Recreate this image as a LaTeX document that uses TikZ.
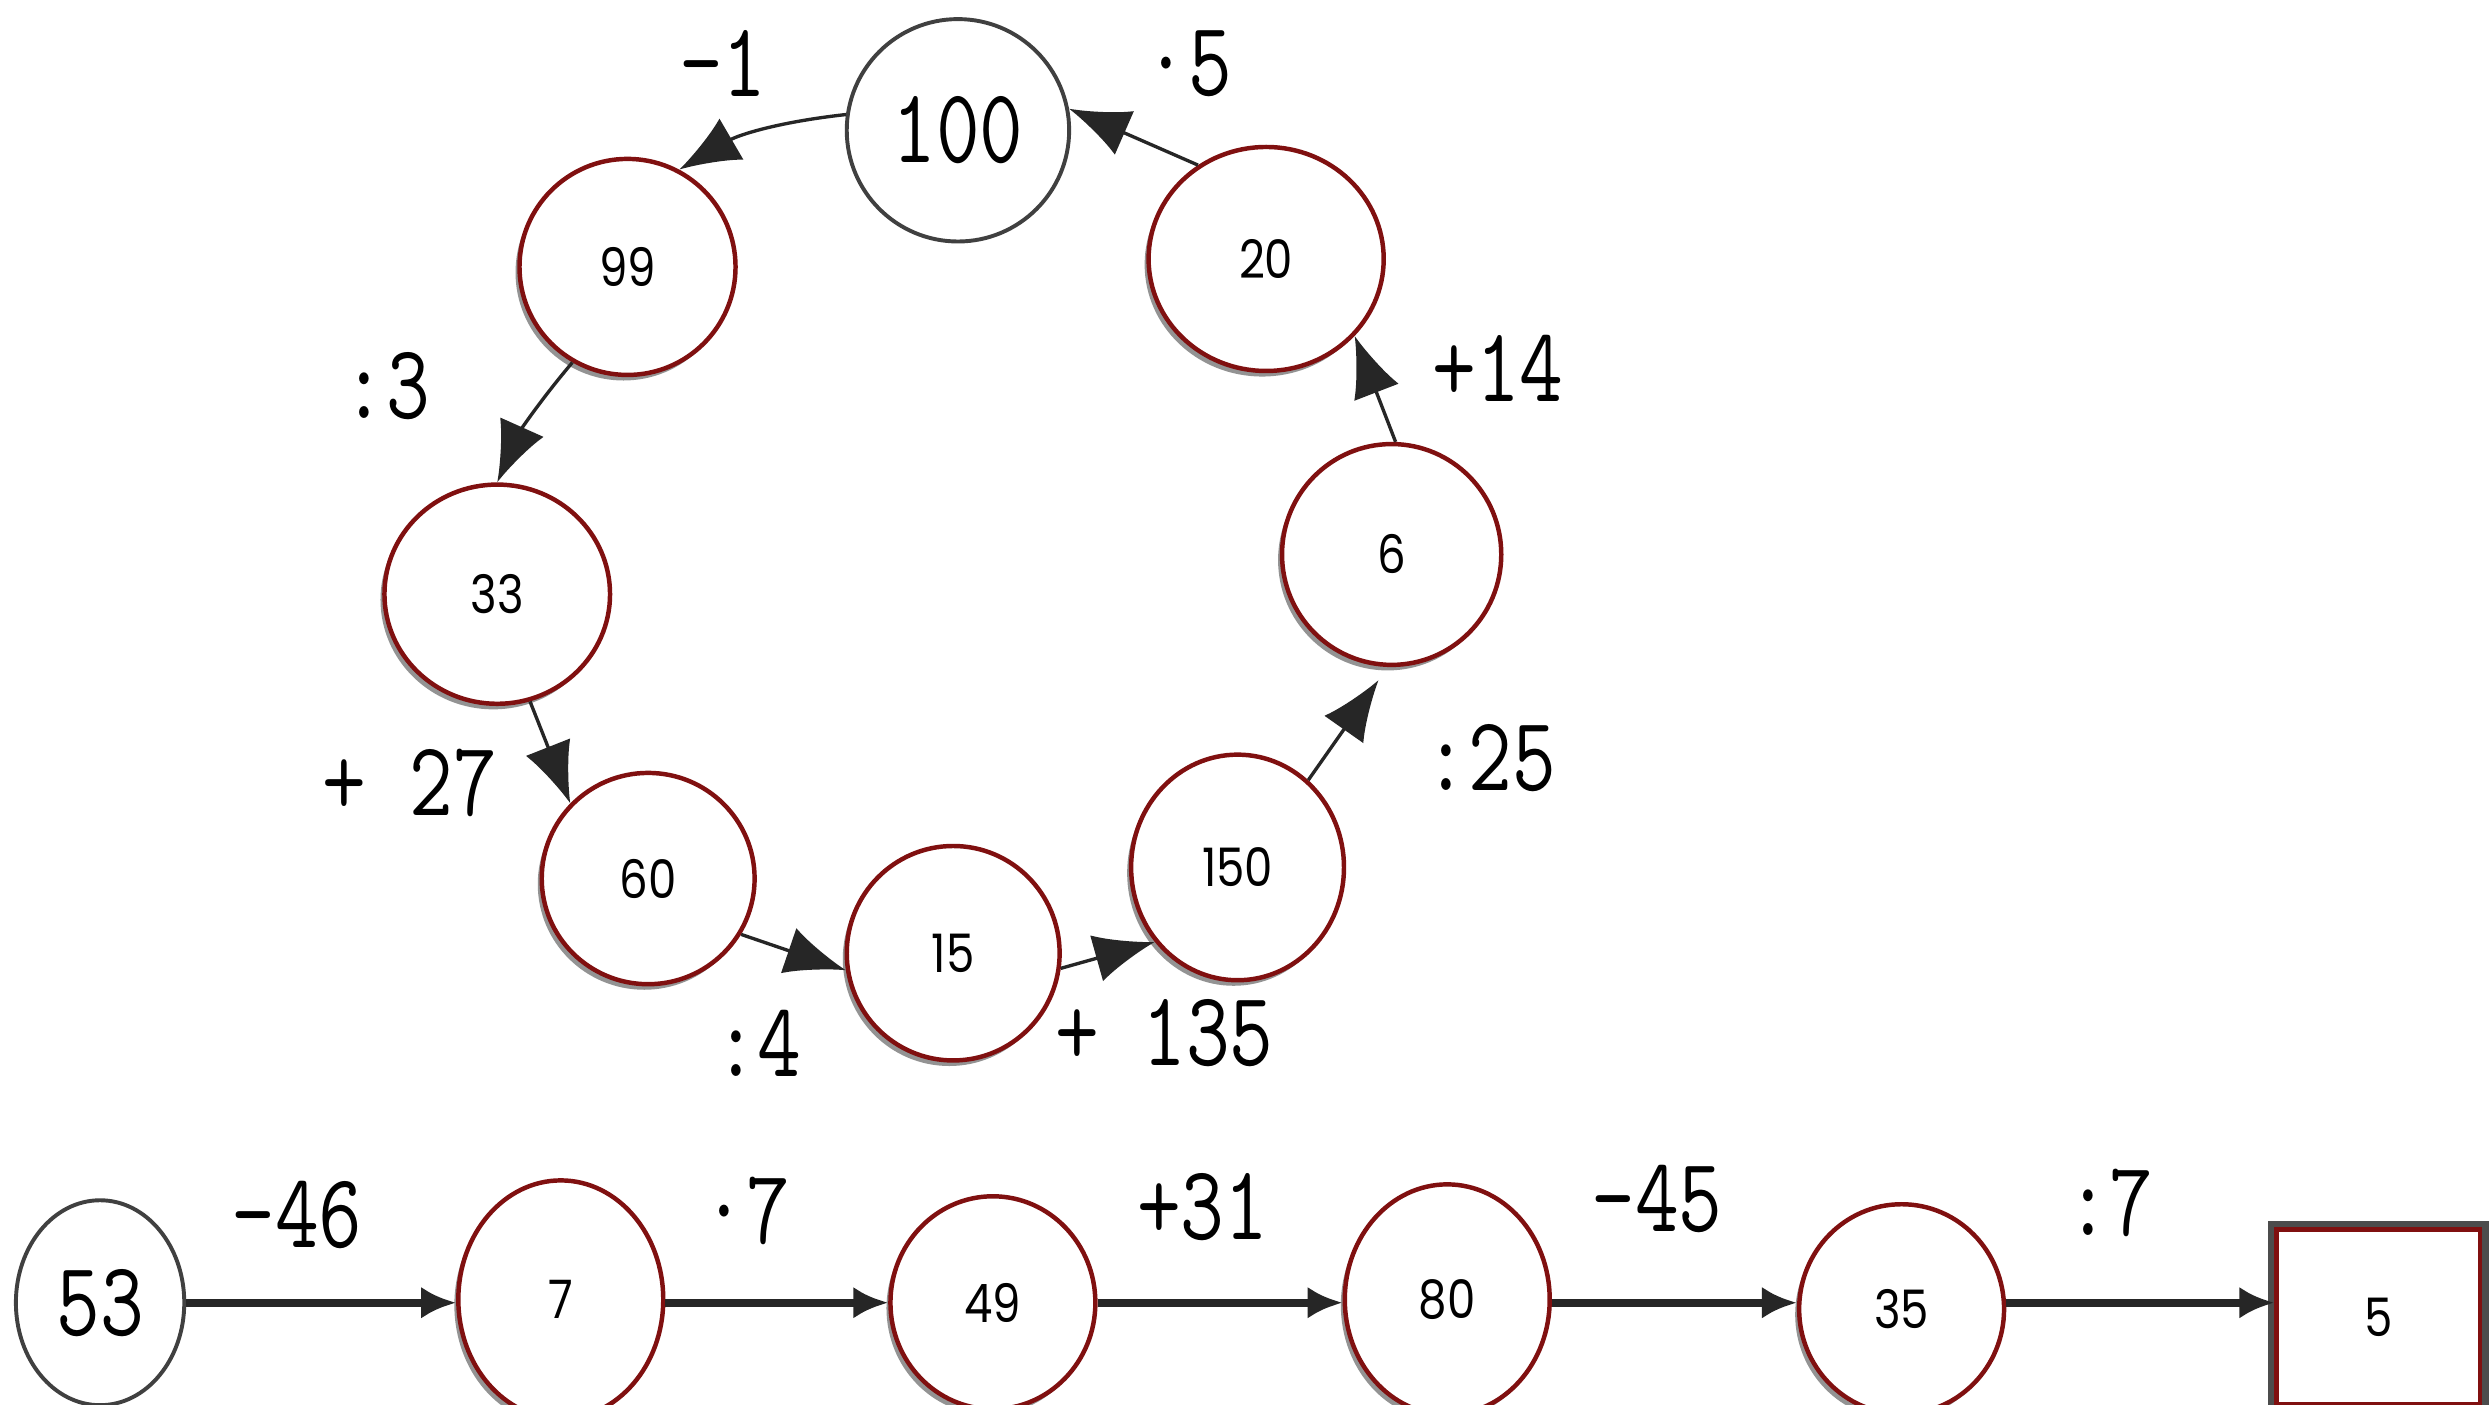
\documentclass[tikz,border=0pt]{standalone}
\usepackage{fontspec}
\usetikzlibrary{arrows.meta,shapes.geometric,shadows}
\newfontfamily\numfont[FakeStretch=0.85]{Poppins}
\newfontfamily\opfont[FakeStretch=0.8]{Latin Modern Mono}
\definecolor{rim}{RGB}{128,16,16}

\begin{document}
\begin{tikzpicture}[
  x=0.1mm, y=-0.1mm,
  numnode/.style={ellipse, draw=rim, line width=0.8pt, fill=white, inner sep=0pt,
    font=\numfont\fontsize{9.5}{10}\selectfont,
    drop shadow={shadow xshift=-0.25mm, shadow yshift=-0.35mm, fill=black!60, opacity=0.7}},
  seednode/.style={ellipse, draw=black!75, line width=0.7pt, fill=white, inner sep=0pt,
    font=\opfont\fontsize{19}{20}\selectfont},
  endnode/.style={rectangle, draw=rim, line width=0.8pt, fill=white, inner sep=0pt,
    font=\numfont\fontsize{9.5}{10}\selectfont,
    preaction={draw=black!70, line width=3.2pt}},
  oplabel/.style={font=\opfont\fontsize{19}{20}\selectfont, inner sep=0pt},
  looparrow/.style={-{Latex[length=3.8mm,width=3mm]}, line width=0.6pt, black!85},
  rowarrow/.style={-{Latex[length=2.2mm,width=2mm]}, line width=1.5pt, black!85}
]
\useasboundingbox[fill=white] (0,0) rectangle (1568,884);

% the ring
\node[seednode, minimum width=14mm, minimum height=14mm] (c100) at (603,82) {100};
\node[numnode, minimum width=13.6mm, minimum height=13.6mm] (c99) at (395,168) {99};
\node[numnode, minimum width=14.2mm, minimum height=13.8mm] (c33) at (313,374) {33};
\node[numnode, minimum width=13.4mm, minimum height=13.3mm] (c60) at (408,553) {60};
\node[numnode, minimum width=13.4mm, minimum height=13.5mm] (c15) at (600,600) {15};
\node[numnode, minimum width=13.4mm, minimum height=14.2mm] (c150) at (779,546) {150};
\node[numnode, minimum width=13.8mm, minimum height=13.9mm] (c6) at (876,349) {6};
\node[numnode, minimum width=14.8mm, minimum height=14.1mm] (c20) at (797,163) {20};

\draw[looparrow] (c100.172) to[bend right=12] (c99.62);
\draw[looparrow] (c99.240) to[bend right=8] (c33.90);
\draw[looparrow] (c33.287) -- (c60.136);
\draw[looparrow] (c60.329) -- (c15.189);
\draw[looparrow] (c15.352) -- (c150.222);
\draw[looparrow, shorten >=1mm] (c150.51) -- (c6.268);
\draw[looparrow] (c6.88) -- (c20.319);
\draw[looparrow] (c20.126) -- (c100.11);

\node[oplabel] (l1) at (455,40) {–1};
\node[oplabel] (l5) at (748,40) {·5};
\node[oplabel] (l3) at (243,243) {:3};
\node[oplabel] (l27) at (258,493) {+ 27};
\node[oplabel] (l4) at (477,657) {:4};
\node[oplabel] (l135) at (733,650) {+ 135};
\node[oplabel] (l25) at (938,477) {:25};
\node[oplabel] (l14) at (943,232) {+14};

% the row
\node[seednode, minimum width=10.6mm, minimum height=12.9mm] (b53) at (63,820) {53};
\node[numnode, minimum width=12.9mm, minimum height=15mm] (b7) at (353,818) {7};
\node[numnode, minimum width=12.9mm, minimum height=13.4mm] (b49) at (625,820) {49};
\node[numnode, minimum width=12.9mm, minimum height=14.5mm] (b80) at (911,818) {80};
\node[numnode, minimum width=12.9mm, minimum height=13.2mm] (b35) at (1197,824) {35};
\node[endnode, minimum width=12.8mm, minimum height=11mm] (b5) at (1497,829) {5};

\draw[rowarrow] (b53.east) -- (b53.east -| b7.west);
\draw[rowarrow] (b7.east |- b53.east) -- (b53.east -| b49.west);
\draw[rowarrow] (b49.east |- b53.east) -- (b53.east -| b80.west);
\draw[rowarrow] (b80.east |- b53.east) -- (b53.east -| b35.west);
\draw[rowarrow] (b35.east |- b53.east) -- (b53.east -| b5.west);

\node[oplabel] (m46) at (187,765) {–46};
\node[oplabel] (m7) at (470,762) {·7};
\node[oplabel] (m31) at (757,760) {+31};
\node[oplabel] (m45) at (1043,755) {–45};
\node[oplabel] (m7b) at (1328,757) {:7};

\end{tikzpicture}
\end{document}
